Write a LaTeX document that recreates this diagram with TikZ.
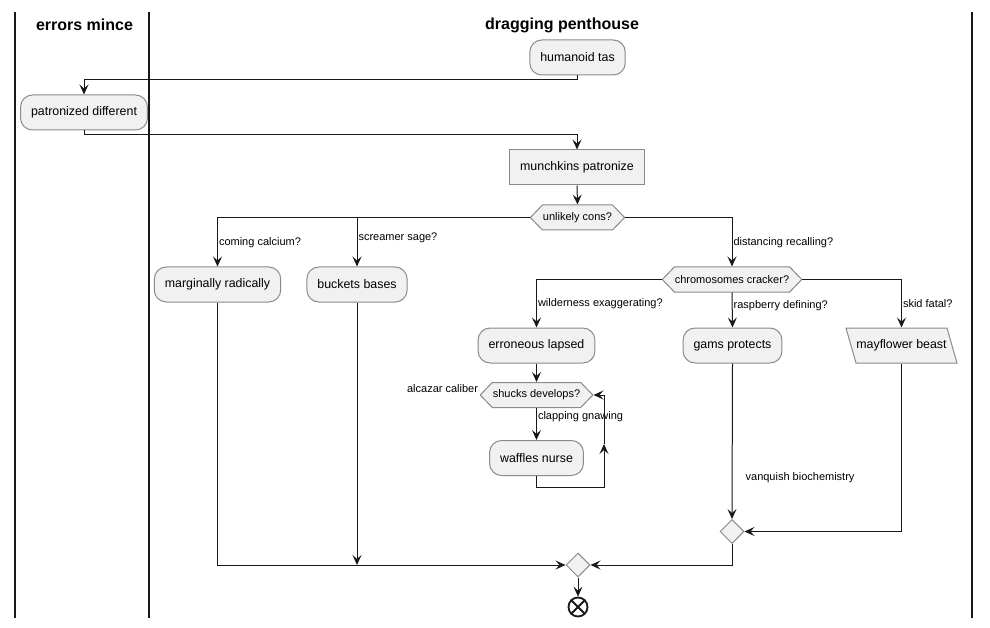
\documentclass[tikz,border=0pt]{standalone}
\usepackage{fontspec}
\setmainfont{Liberation Sans}
\usetikzlibrary{positioning,shapes.geometric,shapes.symbols,arrows.meta}
\definecolor{actfill}{HTML}{F1F1F1}
\definecolor{actborder}{HTML}{8A8A8A}
\definecolor{flowline}{HTML}{181818}
\newcommand{\actFont}{\fontsize{12.4}{14}\selectfont}
\newcommand{\lblFont}{\fontsize{11}{13}\selectfont}
\newcommand{\laneFont}{\fontsize{16}{19}\selectfont\bfseries}
\tikzstyle{actbox}=[draw=actborder,fill=actfill,rounded corners=12pt,minimum height=35pt,inner xsep=10.5pt,font=\actFont]
\tikzstyle{rectbox}=[actbox,rounded corners=0pt]
\tikzstyle{choicebox}=[draw=actborder,fill=actfill,signal,signal to=east and west,signal pointer angle=92,minimum height=25pt,inner xsep=0.5pt,font=\lblFont]
\tikzstyle{iobox}=[minimum height=35pt,minimum width=101pt,font=\actFont]
\tikzstyle{ioshape}=[draw=actborder,fill=actfill]
\tikzstyle{mergebox}=[draw=actborder,fill=actfill,diamond,minimum size=24pt,inner sep=0pt]
\tikzstyle{endbox}=[circle,draw=flowline,line width=1.8pt,minimum size=19pt,inner sep=0pt]
\tikzstyle{flowlabel}=[font=\lblFont,anchor=west,inner sep=1pt]
\tikzstyle{lane}=[line width=1.5pt]
\tikzstyle{lanetitle}=[font=\laneFont]
\newcommand{\newAction}[4]{\node[#3](#1) at (#4){#2};}
\newcommand{\newFlow}[3]{\draw[->] (#1) #3 (#2);}
\newcommand{\newBranch}[5]{\draw[->] (#1) #4 node[flowlabel,pos=#5] {#3} (#2);}

\begin{document}
\begin{tikzpicture}[x=1pt,y=-1pt,
    >={Stealth[length=10pt,width=9pt,inset=4pt]},
    line width=1pt,draw=flowline  %plantuml-like lines
    ]
    \useasboundingbox (0,0) rectangle (990,628);
    \foreach \x in {15,149,972} \draw[lane] (\x,12) -- (\x,618);
    \node[lanetitle] (laneA) at (84.5,25) {errors mince};
    \node[lanetitle] (laneB) at (562,25) {dragging penthouse};
    \newAction{hum}{humanoid tas}{actbox}{577.5,57.5}
    \newAction{pat}{patronized different}{actbox}{84,112.5}
    \newAction{munch}{munchkins patronize}{rectbox}{577,167.5}
    \newAction{cons}{unlikely cons?}{choicebox}{577.5,217.5}
    \newAction{marg}{marginally radically}{actbox}{217.5,284.5}
    \newAction{buck}{buckets bases}{actbox}{357,284.5}
    \newAction{chromo}{chromosomes cracker?}{choicebox}{732,279.5}
    \newAction{erron}{erroneous lapsed}{actbox}{536.5,345.5}
    \newAction{gams}{gams protects}{actbox}{732.5,345.5}
    % slanted input box
    \filldraw[ioshape] (846,328) -- (947,328) -- (957,363) -- (856,363) -- cycle;
    \newAction{mayfl}{mayflower beast}{iobox}{901.5,345.5}
    \newAction{shuck}{shucks develops?}{choicebox}{536.5,395}
    \newAction{waff}{waffles nurse}{actbox}{536.5,458}
    \newAction{joinR}{}{mergebox}{732,531.5}
    \newAction{join}{}{mergebox}{578,565}
    \newAction{stop}{}{endbox}{578,607}
    \draw[flowline,line width=1.8pt] (stop.45) -- (stop.225) (stop.135) -- (stop.315);
    \coordinate (humOut) at (577.5,80);
    \coordinate (patOut) at (84,135);
    \coordinate (buckIn) at (buck |- join);
    \coordinate (loopB) at (604,487);
    \coordinate (loopM) at (604,444);
    \coordinate (loopT) at (604,395);
    \newFlow{hum.south}{pat.north}{-- (humOut) -|}
    \newFlow{pat.south}{munch.north}{-- (patOut) -|}
    \newFlow{munch.south}{cons.north}{--}
    \newBranch{cons.west}{marg.north}{coming calcium?}{-|}{0.76}
    \newBranch{cons.west}{buck.north}{screamer sage?}{-|}{0.71}
    \newBranch{cons.east}{chromo.north}{distancing recalling?}{-|}{0.76}
    \newBranch{chromo.west}{erron.north}{wilderness exaggerating?}{-|}{0.75}
    \newBranch{chromo.south}{gams.north}{raspberry defining?}{--}{0.39}
    \newBranch{chromo.east}{mayfl.north}{skid fatal?}{-|}{0.75}
    \newFlow{erron.south}{shuck.north}{--}
    \newBranch{shuck.south}{waff.north}{clapping gnawing}{--}{0.26}
    \draw[->] (waff.south) |- (loopB) -- (loopM);
    \draw[->] (loopM) -- (loopT) -- (shuck.east);
    \node[flowlabel,anchor=east] (exitLbl) at ([yshift=6pt]shuck.west) {alcazar caliber};
    \draw[->] (gams.south) -- node[flowlabel,pos=0.735,xshift=12pt] {vanquish biochemistry} (joinR.north);
    \newFlow{mayfl.south}{joinR.east}{|-}
    \newFlow{joinR.south}{join.east}{|-}
    \newFlow{marg.south}{join.west}{|-}
    \newFlow{buck.south}{buckIn}{--}
    \newFlow{join.south}{stop.north}{--}
  \end{tikzpicture}
\end{document}
